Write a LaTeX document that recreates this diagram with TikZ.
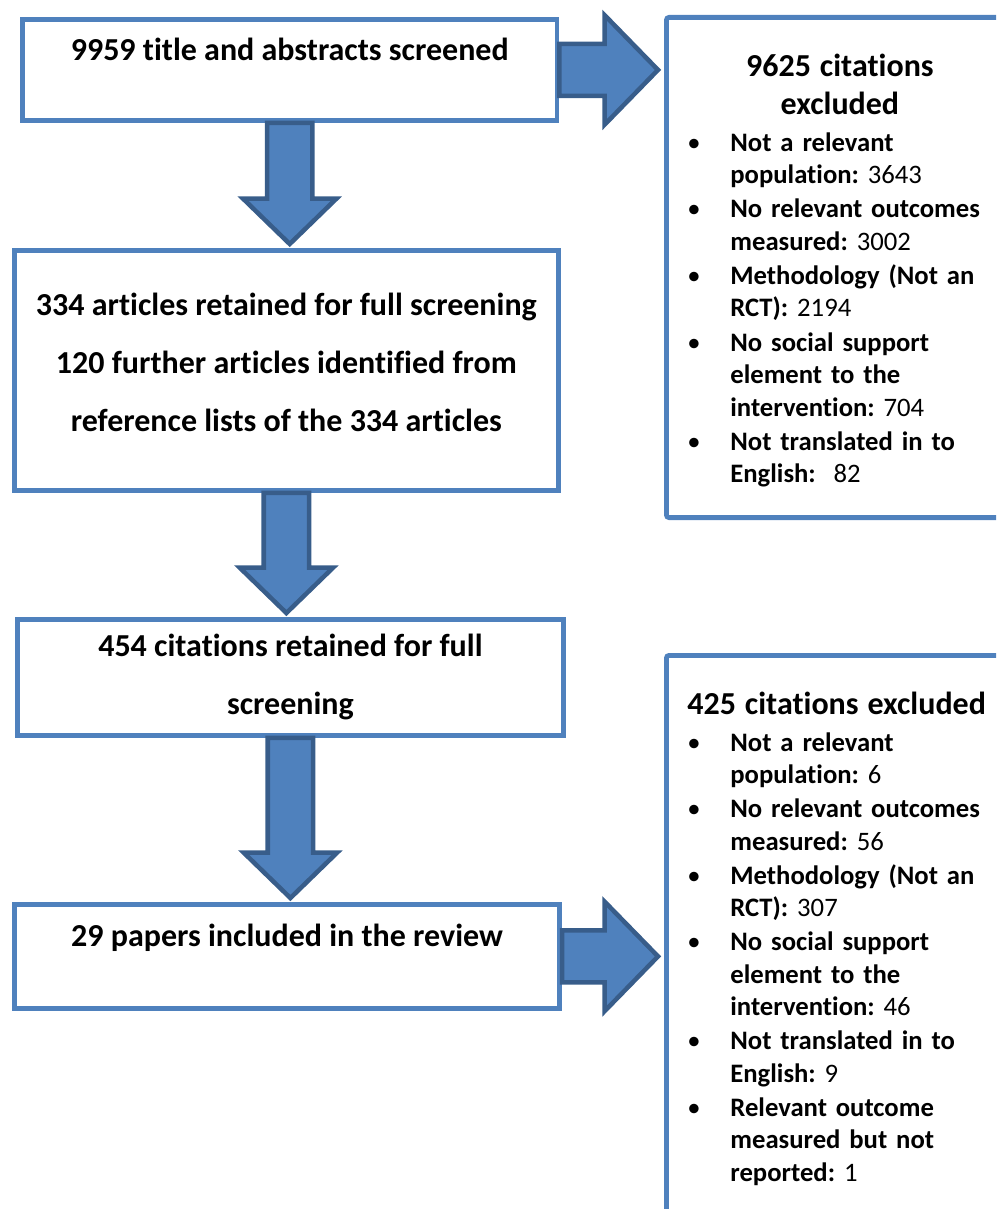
\documentclass[tikz,border=0pt]{standalone}
\usepackage{fontspec}
\setmainfont{Carlito}[Ligatures=CommonOff]
\usetikzlibrary{calc}

\definecolor{boxblue}{HTML}{4F81BD}
\definecolor{arrowedge}{HTML}{385D8A}

\newcommand{\exitem}[2]{\par\vspace{1.1pt}\hangindent=32.25pt\hangafter=1\noindent
  \makebox[32.25pt][l]{\textbullet}\textbf{#1} #2}
\newcommand{\blockdown}[2]{%
  \draw[blockarrow] let \p1=(#1.south), \p2=(#2.north) in
    (\x1-17pt,\y1) -- (\x1-17pt,\y2+37pt) -- (\x1-35pt,\y2+37pt) -- (\x1,\y2+3pt)
    -- (\x1+35pt,\y2+37pt) -- (\x1+17pt,\y2+37pt) -- (\x1+17pt,\y1) -- cycle;}
\newcommand{\blockright}[2]{%
  \draw[blockarrow] let \p1=(#1.east), \p2=(#2.west) in
    (\x1,\y1+19.5pt) -- (\x2-44.5pt,\y1+19.5pt) -- (\x2-44.5pt,\y1+41pt) -- (\x2-4.5pt,\y1)
    -- (\x2-44.5pt,\y1-41pt) -- (\x2-44.5pt,\y1-19.5pt) -- (\x1,\y1-19.5pt) -- cycle;}

\begin{document}
\frenchspacing
\hyphenpenalty=10000
\exhyphenpenalty=10000
\begin{tikzpicture}[x=0.75pt, y=-0.75pt]
  \tikzstyle{box}=[draw=boxblue, line width=3.6pt, inner sep=0pt, align=center, anchor=north west,
    font=\fontsize{24}{43.5}\selectfont\bfseries]
  \tikzstyle{exbox}=[draw=boxblue, line width=3.6pt, rounded corners=2pt, inner xsep=15.75pt, inner ysep=0pt,
    text width=228.75pt, align=left, anchor=north west, font=\fontsize{20}{24.4}\selectfont]
  \tikzstyle{blockarrow}=[fill=boxblue, draw=arrowedge, line width=3.4pt, line join=miter]
  \useasboundingbox (0,0) rectangle (996,1209);
  \clip (0,0) rectangle (996,1209);

  \node[box, minimum width=401pt, text height=30.75pt, text depth=45pt] (screened) at (20,17)
    {9959 title and abstracts screened};
  \node[box, minimum width=408pt, minimum height=180pt] (fullscreen) at (12,248)
    {334 articles retained for full screening\\120 further articles identified from\\reference lists of the 334 articles\rule[-12pt]{0pt}{0pt}};
  \node[box, minimum width=409.5pt, minimum height=87pt] (retained) at (15,617)
    {454 citations retained for full\\screening};
  \node[box, minimum width=409pt, text height=31.5pt, text depth=46.5pt] (included) at (12,902)
    {29 papers included in the review};

  \node[exbox] (excluded1) at (664,15) {%
    {\centering\fontsize{24}{28.5}\selectfont\bfseries\rule{0pt}{44.25pt}9625 citations\\excluded\par}
    \vspace{2.25pt}
    \exitem{Not a relevant population:}{3643}
    \exitem{No relevant outcomes measured:}{3002}
    \exitem{Methodology (Not an RCT):}{2194}
    \exitem{No social support element to the intervention:}{704}
    \exitem{Not translated in to English:}{\ 82\rule[-26.25pt]{0pt}{26.25pt}}\par};
  \node[exbox] (excluded2) at (664,653) {%
    {\fontsize{24}{28.5}\selectfont\bfseries\rule{0pt}{44.25pt}425 citations excluded\par}
    \vspace{2pt}
    \exitem{Not a relevant population:}{6}
    \exitem{No relevant outcomes measured:}{56}
    \exitem{Methodology (Not an RCT):}{307}
    \exitem{No social support element to the intervention:}{46}
    \exitem{Not translated in to English:}{9}
    \exitem{Relevant outcome measured but not reported:}{1\rule[-50pt]{0pt}{50pt}}\par};

  \blockdown{screened}{fullscreen}
  \blockdown{fullscreen}{retained}
  \blockdown{retained}{included}
  \blockright{screened}{excluded1}
  \blockright{included}{excluded2}
\end{tikzpicture}
\end{document}
